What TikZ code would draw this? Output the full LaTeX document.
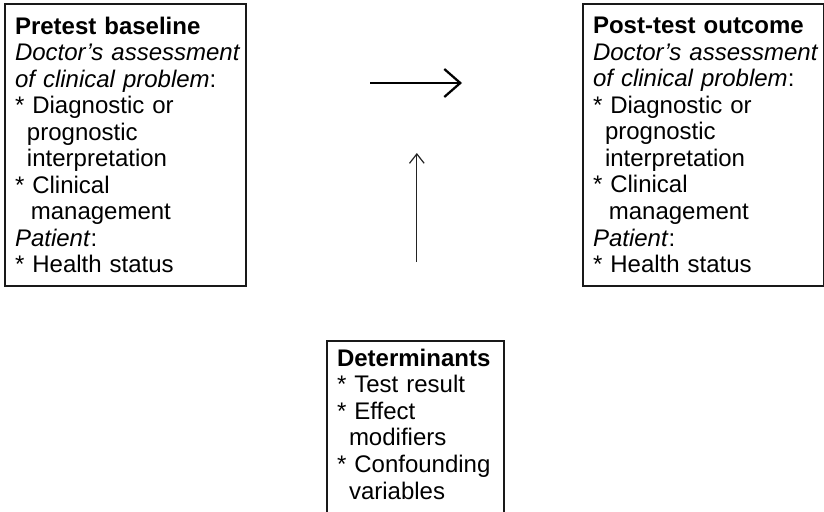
\documentclass[tikz,border=0pt]{standalone}
\usepackage{fontspec}
\setmainfont{Liberation Sans}
\usepackage{xcolor}
\usetikzlibrary{arrows.meta, positioning}
\definecolor{boxBorder}{RGB}{25, 25, 25}
\definecolor{arrowInk}{RGB}{0, 0, 0}
\definecolor{thinInk}{RGB}{35, 35, 35}
\newcommand{\wrapind}{\hspace*{0.5em}}
\newcommand{\itemind}{\hspace*{0.66em}}
\newcommand{\bul}{{*}}

\begin{document}
\begin{tikzpicture}[
    x=0.75pt, y=-0.75pt,
    font=\fontsize{18}{19.9}\selectfont,
    panel/.style={draw=boxBorder, line width=1.1pt, outer sep=0pt, align=left, inner xsep=7.5pt},
    stageBox/.style={panel, text width=165.75pt, minimum height=211.5pt},
    detBox/.style={panel, text width=117.75pt, inner ysep=6pt, text depth=135.5pt},
    timeArrow/.style={-{Straight Barb[length=12pt, width=21pt]}, line width=1.7pt, draw=arrowInk},
    effectArrow/.style={-{Straight Barb[length=7pt, width=11pt]}, line width=0.9pt, draw=thinInk}
]
    \clip (0,0) rectangle (824,511);

    % Nodes
    \node[stageBox, anchor=north west] (pre) at (5,4) {
        \textbf{Pretest baseline}\\
        \mbox{\textit{Doctor's assessment}}\\
        \textit{of clinical problem}:\\
        \bul{} Diagnostic or\\
        \wrapind prognostic\\
        \wrapind interpretation\\
        \bul{} Clinical\\
        \itemind management\\
        \textit{Patient}:\\
        \bul{} Health status
    };

    \node[stageBox, right=252.75pt of pre] (post) {
        \textbf{Post-test outcome}\\
        \mbox{\textit{Doctor's assessment}}\\
        \textit{of clinical problem}:\\
        \bul{} Diagnostic or\\
        \wrapind prognostic\\
        \wrapind interpretation\\
        \bul{} Clinical\\
        \itemind management\\
        \textit{Patient}:\\
        \bul{} Health status
    };

    \node[detBox, below right=41.25pt and 60.75pt of pre.south east] (det) {
        \textbf{Determinants}\\
        \bul{} Test result\\
        \bul{} Effect\\
        \wrapind modifiers\\
        \bul{} Confounding\\
        \wrapind variables
    };

    % Arrows
    \draw[timeArrow, shorten <=93pt, shorten >=90.75pt] ([yshift=46.5pt]pre.east) -- ([yshift=46.5pt]post.west);
    \draw[effectArrow, shorten <=59.25pt, shorten >=6pt] ([xshift=1pt]det.north) -- ([xshift=1pt]det.north |- pre.east);

\end{tikzpicture}
\end{document}
